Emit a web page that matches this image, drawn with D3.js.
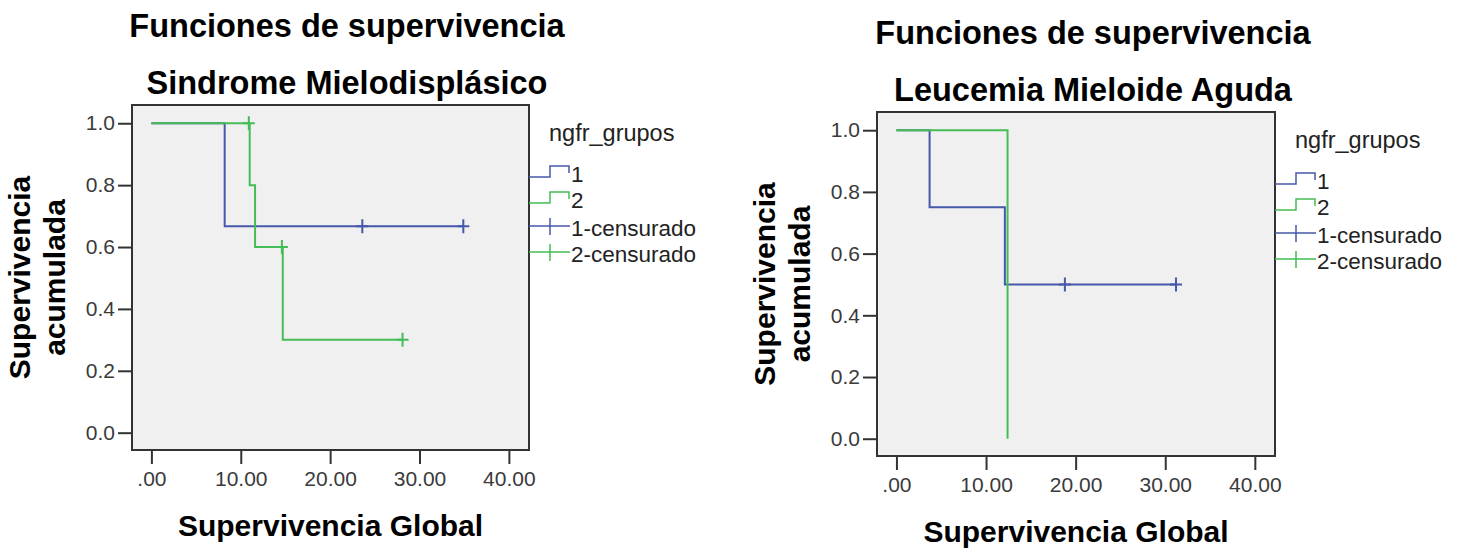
<!DOCTYPE html>
<html>
<head>
<meta charset="utf-8">
<script src="https://cdn.jsdelivr.net/npm/d3@7"></script>
<style>
  body { margin: 0; background: #fff; }
  svg { font-family: "Liberation Sans", Arial, sans-serif; }
</style>
</head>
<body>
<svg id="chart" width="1464" height="549"></svg>
<script>
// ticks and labels
const xTicks = [0, 10, 20, 30, 40];
const yTicks = [0, 0.2, 0.4, 0.6, 0.8, 1.0];
const legendTitle = "ngfr_grupos";
const legendLabels = ["1", "2", "1-censurado", "2-censurado"];
const mainTitle = "Funciones de supervivencia";
const panelTitles = ["Sindrome Mielodisplásico", "Leucemia Mieloide Aguda"];
const xLabel = "Supervivencia Global";
const yLabel = ["Supervivencia", "acumulada"];

// Sindrome Mielodisplásico (step times / survival, censored times)
const smdG1Tiempo = [0, 8.2, 34.9];
const smdG1Surv = [1.0, 0.667, 0.667];
const smdG1Censura = [23.6, 34.9];
const smdG2Tiempo = [0, 11.0, 11.6, 14.7, 28.1];
const smdG2Surv = [1.0, 0.8, 0.6, 0.3, 0.3];
const smdG2Censura = [10.9, 14.6, 28.1];

// Leucemia Mieloide Aguda
const lmaG1Tiempo = [0, 3.7, 12.1, 31.2];
const lmaG1Surv = [1.0, 0.75, 0.5, 0.5];
const lmaG1Censura = [18.8, 31.2];
const lmaG2Tiempo = [0, 12.4];
const lmaG2Surv = [1.0, 0.0];
const lmaG2Censura = [];

const colors = ["#4558aa", "#44bd55"];
const frameColor = "#333";

const svg = d3.select("#chart");

function survAt(tiempo, surv, t) {
  let s = surv[0];
  tiempo.forEach((ti, i) => { if (ti <= t) s = surv[i]; });
  return s;
}

function drawPanel(p) {
  const x = d3.scaleLinear().domain([-2.17, 42.25]).range([p.bx, p.bx + p.bw]);
  const y = d3.scaleLinear().domain([-0.056, 1.059]).range([p.by + p.bh, p.by]);
  const g = svg.append("g");

  // titles
  g.append("text")
    .attr("x", p.cx).attr("y", p.by - 68)
    .attr("text-anchor", "middle")
    .attr("font-size", 32.5).attr("font-weight", "bold")
    .text(mainTitle);
  g.append("text")
    .attr("x", p.cx).attr("y", p.by - 11)
    .attr("text-anchor", "middle")
    .attr("font-size", 32.5).attr("font-weight", "bold")
    .text(p.title);

  // plot background
  g.append("rect")
    .attr("x", p.bx).attr("y", p.by)
    .attr("width", p.bw).attr("height", p.bh)
    .attr("fill", "#f0f0f0");

  // axes
  const yAxis = g.append("g")
    .attr("transform", `translate(${p.bx},0)`)
    .call(d3.axisLeft(y).tickValues(yTicks).tickFormat(d3.format(".1f")).tickSize(14).tickPadding(3));
  const xAxis = g.append("g")
    .attr("transform", `translate(0,${p.by + p.bh})`)
    .call(d3.axisBottom(x).tickValues(xTicks)
      .tickFormat(d => d === 0 ? ".00" : d3.format(".2f")(d))
      .tickSize(14).tickPadding(7));
  [yAxis, xAxis].forEach(a => {
    a.select(".domain").remove();
    a.selectAll(".tick line").attr("stroke", frameColor).attr("stroke-width", 2);
    a.selectAll(".tick text")
      .attr("font-family", "Liberation Sans, Arial, sans-serif")
      .attr("font-size", 21).attr("fill", "#3a3a3a");
  });

  // curves
  const line = d3.line()
    .x(d => x(d[0])).y(d => y(d[1]))
    .curve(d3.curveStepAfter);

  p.series.forEach((s, i) => {
    g.append("path")
      .datum(s.tiempo.map((t, j) => [t, s.surv[j]]))
      .attr("fill", "none")
      .attr("stroke", colors[i])
      .attr("stroke-width", 2)
      .attr("d", line);

    g.selectAll(null)
      .data(s.censura)
      .join("path")
      .attr("fill", "none")
      .attr("stroke", colors[i])
      .attr("stroke-width", 2)
      .attr("d", t => {
        const cx = x(t), cy = y(survAt(s.tiempo, s.surv, t));
        return `M${cx - 6},${cy}H${cx + 6}M${cx},${cy - 7}V${cy + 7}`;
      });
  });

  // frame
  g.append("rect")
    .attr("x", p.bx).attr("y", p.by)
    .attr("width", p.bw).attr("height", p.bh)
    .attr("fill", "none")
    .attr("stroke", frameColor)
    .attr("stroke-width", 2);

  // axis titles
  g.append("text")
    .attr("x", p.bx + p.bw / 2).attr("y", p.by + p.bh + 86)
    .attr("text-anchor", "middle")
    .attr("font-size", 30).attr("font-weight", "bold")
    .text(xLabel);
  yLabel.forEach((t, i) => {
    g.append("text")
      .attr("transform", `translate(${p.bx - 102 + i * 35},${p.by + p.bh / 2}) rotate(-90)`)
      .attr("text-anchor", "middle")
      .attr("font-size", 30).attr("font-weight", "bold")
      .text(t);
  });

  // legend
  const lx = p.bx + p.bw;
  const ly = p.by;
  g.append("text")
    .attr("x", lx + 20).attr("y", ly + 36)
    .attr("font-size", 23.5).attr("fill", "#222")
    .text(legendTitle);
  const rowY = [77, 103, 131, 157];
  legendLabels.forEach((lab, i) => {
    const by = ly + rowY[i];
    const col = colors[i % 2];
    if (i < 2) {
      g.append("path")
        .attr("fill", "none").attr("stroke", col).attr("stroke-width", 1.5)
        .attr("d", `M${lx},${by - 5}H${lx + 21}V${by - 16}H${lx + 40}V${by - 9}`);
    } else {
      g.append("path")
        .attr("fill", "none").attr("stroke", col).attr("stroke-width", 1.5)
        .attr("d", `M${lx},${by - 10}H${lx + 41}M${lx + 21},${by - 18}V${by - 1}`);
    }
    g.append("text")
      .attr("x", lx + 42).attr("y", by)
      .attr("font-size", 22.5).attr("fill", "#222")
      .text(lab);
  });
}

drawPanel({
  bx: 132, by: 105, bw: 397, bh: 345, cx: 347,
  title: panelTitles[0],
  series: [
    { tiempo: smdG1Tiempo, surv: smdG1Surv, censura: smdG1Censura },
    { tiempo: smdG2Tiempo, surv: smdG2Surv, censura: smdG2Censura }
  ]
});

drawPanel({
  bx: 877, by: 112, bw: 398, bh: 344, cx: 1093,
  title: panelTitles[1],
  series: [
    { tiempo: lmaG1Tiempo, surv: lmaG1Surv, censura: lmaG1Censura },
    { tiempo: lmaG2Tiempo, surv: lmaG2Surv, censura: lmaG2Censura }
  ]
});
</script>
</body>
</html>
